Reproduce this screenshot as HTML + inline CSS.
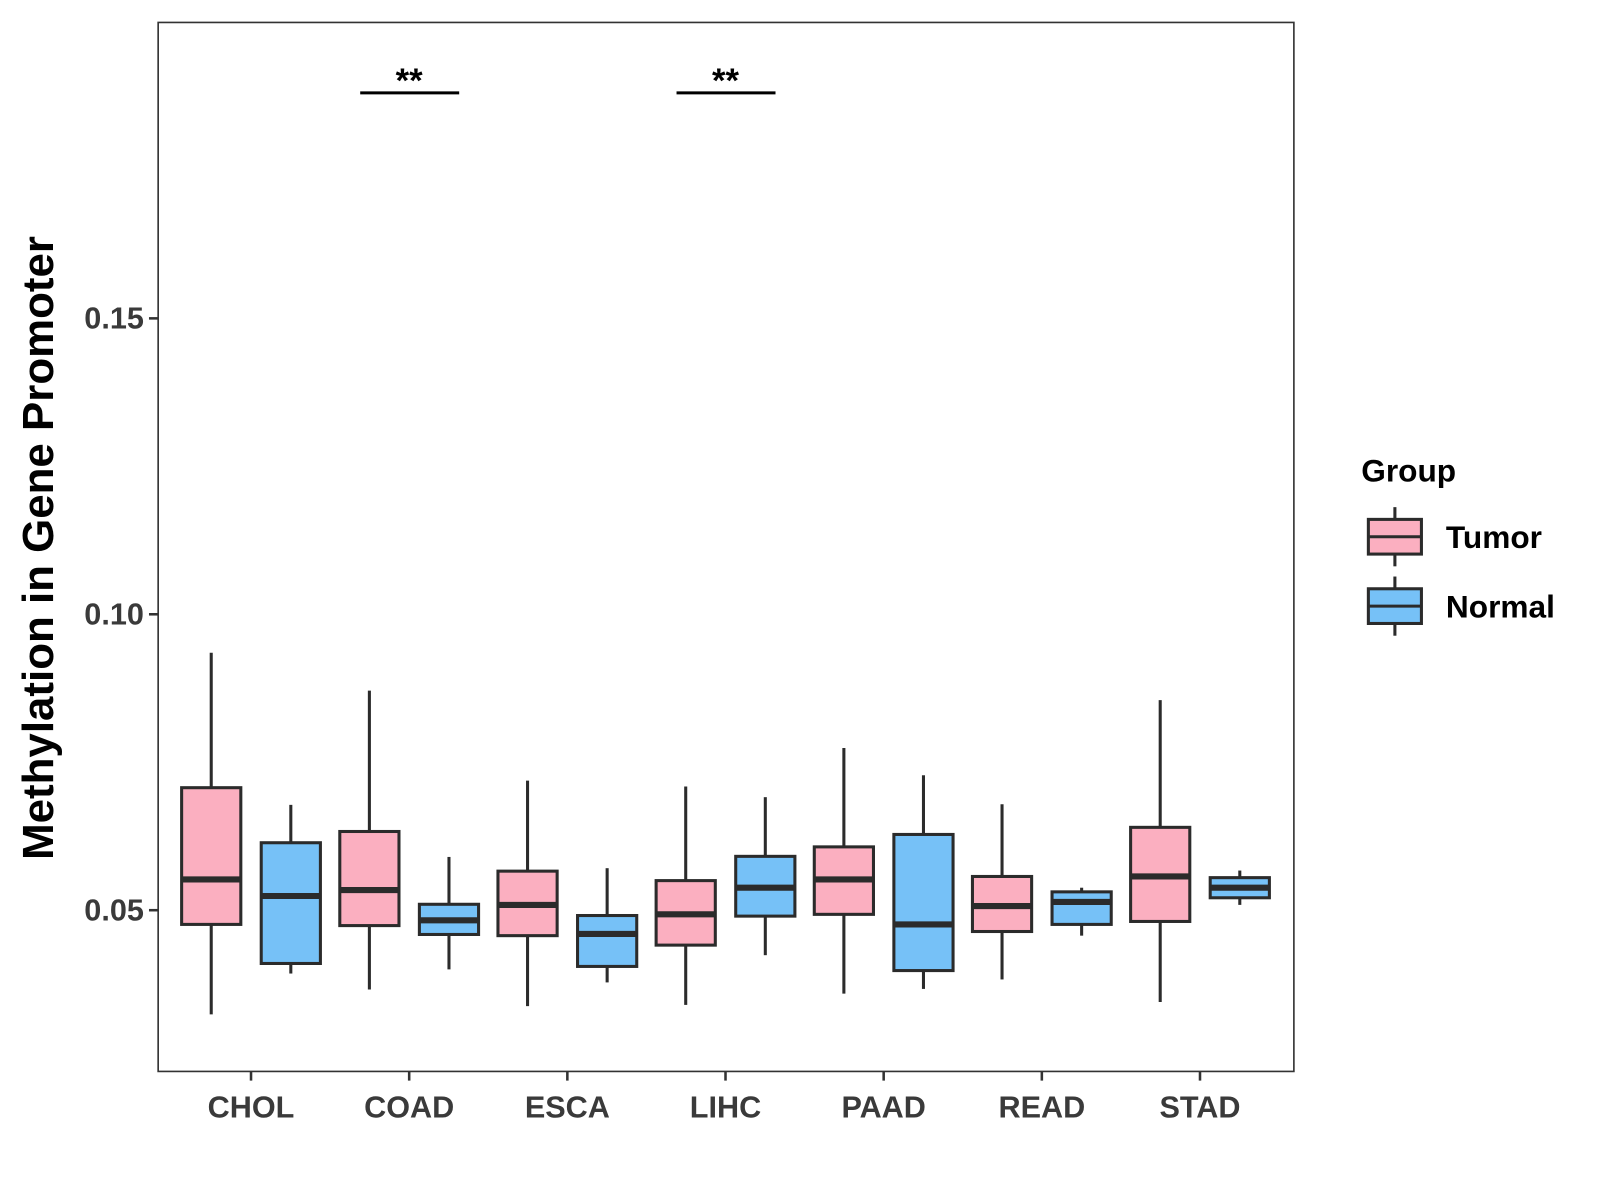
<!DOCTYPE html>
<html><head><style>
body{margin:0;background:#fff;}
svg{display:block;font-family:"Liberation Sans",Arial,sans-serif;}
</style></head><body>
<svg id="chart" width="1600" height="1200" viewBox="0 0 1568 1176" xmlns="http://www.w3.org/2000/svg">
<rect x="0" y="0" width="1568" height="1176" fill="#fff"/>
<g id="plot"></g>
</svg>
<script>
const categories=["CHOL","COAD","ESCA","LIHC","PAAD","READ","STAD"];
const tumorStats=[
[0.0324,0.0476,0.0552,0.0707,0.0935],
[0.0366,0.0474,0.0534,0.0633,0.0871],
[0.0338,0.0457,0.0509,0.0566,0.0719],
[0.0340,0.0441,0.0493,0.0550,0.0709],
[0.0359,0.0493,0.0552,0.0607,0.0774],
[0.0383,0.0464,0.0507,0.0557,0.0679],
[0.0345,0.0481,0.0557,0.0640,0.0855]];
const normalStats=[
[0.0393,0.0410,0.0524,0.0614,0.0678],
[0.0400,0.0459,0.0483,0.0510,0.0590],
[0.0378,0.0405,0.0460,0.0491,0.0571],
[0.0424,0.0490,0.0538,0.0591,0.0691],
[0.0367,0.0398,0.0476,0.0628,0.0728],
[0.0457,0.0476,0.0514,0.0531,0.0538],
[0.0509,0.0521,0.0538,0.0555,0.0567]];
const yTicks=[0.05,0.10,0.15];
const yTickLabels=["0.05","0.10","0.15"];
const sigCategories=["COAD","LIHC"];
const sigLabels=["**","**"];

const NS="http://www.w3.org/2000/svg";
const g=document.getElementById('plot');
const P={l:155,r:1268,t:22,b:1050};
function y(v){return 892-(v-0.05)*5800;}
function x(i){return 246+i*155;}
function el(tag,attrs,parent){const e=document.createElementNS(NS,tag);for(const k in attrs)e.setAttribute(k,attrs[k]);(parent||g).appendChild(e);return e;}

let frame=el('rect',{x:P.l,y:P.t,width:P.r-P.l,height:P.b-P.t,fill:'none',stroke:'#333','stroke-width':1.6});



yTicks.forEach((t,i)=>{
  const tk=el('line',{x1:P.l-9,x2:P.l,y1:y(t),y2:y(t),stroke:'#333','stroke-width':2.5});
  
  
  const tx=el('text',{x:P.l-14,y:y(t)+10,'text-anchor':'end','font-size':30,'font-weight':'bold',fill:'#3a3a3a'});
  tx.textContent=yTickLabels[i];
  
  
});
categories.forEach((c,i)=>{
  const tk=el('line',{x1:x(i),x2:x(i),y1:P.b,y2:P.b+9,stroke:'#333','stroke-width':2.5});
  
  
  const tx=el('text',{x:x(i),y:P.b+45,'text-anchor':'middle','font-size':30,'font-weight':'bold',fill:'#3a3a3a'});
  tx.textContent=c;
  
  
});
function box(cx,s,fill,name){
  const gg=el('g',{});
  
  
  const w=58;
  el('line',{x1:cx,x2:cx,y1:y(s[4]),y2:y(s[3]),stroke:'#2b2b2b','stroke-width':3},gg);
  el('line',{x1:cx,x2:cx,y1:y(s[1]),y2:y(s[0]),stroke:'#2b2b2b','stroke-width':3},gg);
  el('rect',{x:cx-w/2,y:y(s[3]),width:w,height:y(s[1])-y(s[3]),fill:fill,stroke:'#2b2b2b','stroke-width':3},gg);
  el('line',{x1:cx-w/2,x2:cx+w/2,y1:y(s[2]),y2:y(s[2]),stroke:'#2b2b2b','stroke-width':6},gg);
}
categories.forEach((c,i)=>{
  box(x(i)-39,tumorStats[i],'#fbafc0','tumor-box-'+c.toLowerCase());
  box(x(i)+39,normalStats[i],'#76c1f7','normal-box-'+c.toLowerCase());
});
sigCategories.forEach((c,k)=>{
  const i=categories.indexOf(c);
  const ln=el('line',{x1:x(i)-48,x2:x(i)+49,y1:91,y2:91,stroke:'#000','stroke-width':3});
  
  
  const tx=el('text',{x:x(i),y:90,'text-anchor':'middle','font-size':34,'font-weight':'bold',fill:'#000'});
  tx.textContent=sigLabels[k];
  
  
});
const yt=el('text',{x:0,y:0,transform:'translate(52,537) rotate(-90)','text-anchor':'middle','font-size':43,'font-weight':'bold',fill:'#000'});
yt.textContent='Methylation in Gene Promoter';



const lt=el('text',{x:1334,y:472,'font-size':31,'font-weight':'bold',fill:'#000'});
lt.textContent='Group';


[['Tumor','#fbafc0',526],['Normal','#76c1f7',594]].forEach(([lab,col,cy])=>{
  const lg=el('g',{});
  
  
  el('line',{x1:1367,x2:1367,y1:cy-29,y2:cy+29,stroke:'#2b2b2b','stroke-width':3},lg);
  el('rect',{x:1341,y:cy-17,width:52,height:34,fill:col,stroke:'#2b2b2b','stroke-width':3},lg);
  el('line',{x1:1341,x2:1393,y1:cy,y2:cy,stroke:'#2b2b2b','stroke-width':3},lg);
  const t=el('text',{x:1417,y:cy+11,'font-size':31,'font-weight':'bold',fill:'#000'},lg);
  t.textContent=lab;
});
</script>
</body></html>
